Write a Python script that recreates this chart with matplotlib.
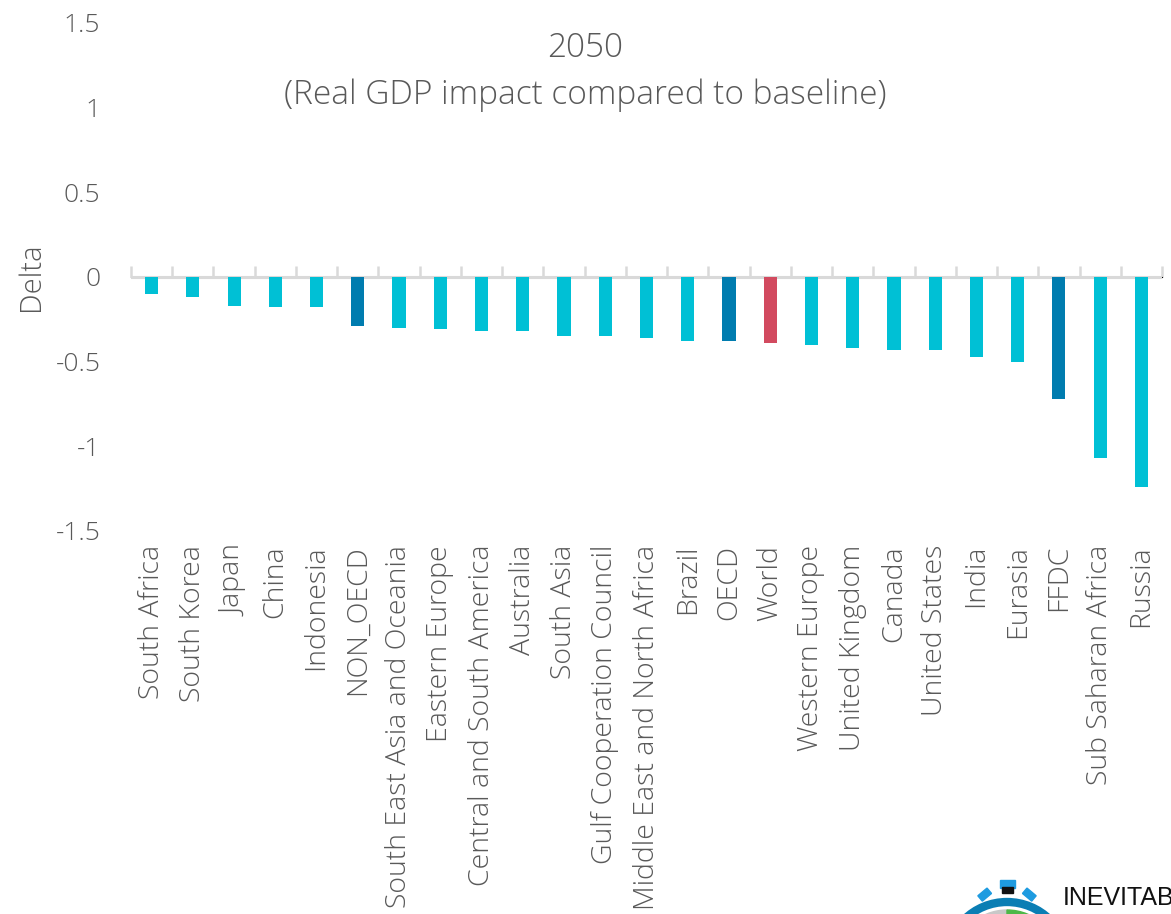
import matplotlib
matplotlib.use("Agg")
import matplotlib.pyplot as plt
from matplotlib.patches import Circle, Wedge, Rectangle
from matplotlib import transforms

# Regions and their real GDP delta in 2050 versus baseline
regions = [
    "South Africa", "South Korea", "Japan", "China", "Indonesia", "NON_OECD",
    "South East Asia and Oceania", "Eastern Europe", "Central and South America",
    "Australia", "South Asia", "Gulf Cooperation Council",
    "Middle East and North Africa", "Brazil", "OECD", "World", "Western Europe",
    "United Kingdom", "Canada", "United States", "India", "Eurasia", "FFDC",
    "Sub Saharan Africa", "Russia",
]
delta = [
    -0.10, -0.12, -0.17, -0.18, -0.18, -0.29,
    -0.30, -0.31, -0.32,
    -0.32, -0.35, -0.35,
    -0.36, -0.38, -0.38, -0.39, -0.40,
    -0.42, -0.43, -0.43, -0.47, -0.50, -0.72,
    -1.07, -1.24,
]
aggregates = ["NON_OECD", "OECD", "FFDC"]
world = ["World"]
y_ticks = [-1.5, -1, -0.5, 0, 0.5, 1, 1.5]
y_tick_labels = ["-1.5", "-1", "-0.5", "0", "0.5", "1", "1.5"]

CYAN = "#00C0D5"
DARK = "#007CAF"
RED = "#D24A5F"
GREY_TXT = "#595959"
GRID = "#D9D9D9"

colors = [DARK if r in aggregates else RED if r in world else CYAN for r in regions]

plt.rcParams["font.family"] = ["Open Sans", "DejaVu Sans"]
plt.rcParams["font.weight"] = "light"

W, H = 1171, 914
fig = plt.figure(figsize=(W / 100, H / 100), dpi=100)
ax = fig.add_axes([131 / W, 1 - 531 / H, (1162 - 131) / W, (531 - 23) / H])

x = list(range(len(regions)))
ax.bar(x, delta, width=0.32, color=colors, zorder=3)

ax.set_xlim(-0.5, len(regions) - 0.5)
ax.set_ylim(-1.5, 1.5)
ax.set_yticks(y_ticks)
ax.set_yticklabels(y_tick_labels)
ax.set_xticks(x)
ax.set_xticklabels(regions, rotation=90, va="top", ha="center")
ax.tick_params(axis="x", length=0, pad=10, labelsize=20.5, labelcolor=GREY_TXT)
ax.tick_params(axis="y", length=0, pad=22, labelsize=19, labelcolor=GREY_TXT)
for s in ax.spines.values():
    s.set_visible(False)

# zero line with category separators
ax.axhline(0, color=GRID, lw=2.2, zorder=2)
sec = ax.secondary_xaxis(0.5)
sec.set_xticks([i - 0.5 for i in range(len(regions) + 1)])
sec.set_xticklabels([])
sec.tick_params(axis="x", direction="out", length=8, width=1.8, color=GRID)
sec.spines["bottom"].set_visible(False)

ax.set_ylabel("Delta", fontsize=21, color=GREY_TXT, weight="light")
ax.yaxis.set_label_coords(-0.082, 0.5)

fig.text(585 / W, 1 - 48 / H, "2050", ha="center", va="center",
         fontsize=24, color=GREY_TXT)
fig.text(585 / W, 1 - 95 / H, "(Real GDP impact compared to baseline)",
         ha="center", va="center", fontsize=24, color=GREY_TXT)

# brand mark in the lower right corner
lx = fig.add_axes([0, 0, 1, 1], zorder=5)
lx.set_xlim(0, W)
lx.set_ylim(H, 0)
lx.axis("off")
cx, cy, R = 1007, 963, 61
lx.add_patch(Rectangle((1000, 880), 15, 8, color="#1E9BE0"))
lx.add_patch(Rectangle((1002, 887), 11, 6, color="#111111"))
for ang, sx in ((-40, 985), (40, 1029)):
    tr = transforms.Affine2D().rotate_deg_around(sx, 895, ang) + lx.transData
    lx.add_patch(Rectangle((sx - 6, 891), 12, 7, color="#1E9BE0", transform=tr))
lx.add_patch(Circle((cx, cy), R, facecolor="none", edgecolor="#0A7EB4", lw=6))
lx.add_patch(Wedge((cx, cy), R - 8, 90, 270, color="#C8C8C8"))
lx.add_patch(Wedge((cx, cy), R - 8, -90, 90, color="#4DB848"))
lx.text(1063, 905, "INEVITABLE", fontsize=18, color="#111111", weight="normal",
        family=["Liberation Sans", "DejaVu Sans"], va="baseline", ha="left")

fig.savefig("out.png", dpi=100, facecolor="white")
